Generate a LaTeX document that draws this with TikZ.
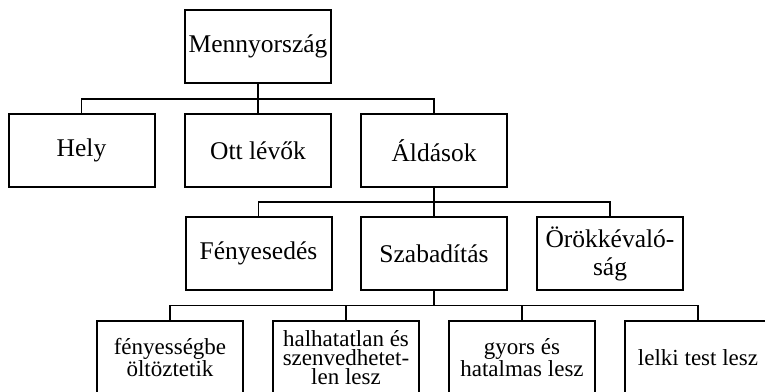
\documentclass[tikz,border=0pt]{standalone}
\usepackage{fontspec}
\setmainfont{Liberation Serif}
\begin{document}
\begin{tikzpicture}[x=1pt,y=-1pt,
  box/.style={draw=black, line width=2pt, minimum width=146pt, minimum height=73pt, inner sep=0pt, align=center, font=\fontsize{25.5}{28}\selectfont},
  sbox/.style={box, font=\fontsize{23}{19}\selectfont},
  conn/.style={draw=black, line width=1.8pt}]
\useasboundingbox (0,0) rectangle (765,391);
\clip (0,0) rectangle (765,391);
\node[box] (m) at (258,46.5) {Mennyország};
\node[box] (hely) at (81.5,150.5) {Hely};
\node[box] (ott) at (258,150.5) {Ott lévők};
\node[box] (ald) at (434,150.5) {Áldások};
\node[box] (fen) at (258.5,253.5) {Fényesedés};
\node[box] (sza) at (434,253.5) {Szabadítás};
\node[box] (oro) at (610,253.5) {Örökkévaló-\\ság};
\node[sbox] (f1) at (170,357.5) {fényességbe\\öltöztetik};
\node[sbox] (f2) at (346,357.5) {halhatatlan és\\szenvedhetet-\\len lesz};
\node[sbox] (f3) at (522,357.5) {gyors és\\hatalmas lesz};
\node[sbox] (f4) at (698,357.5) {lelki test lesz};
\coordinate (b1) at (258,99);
\coordinate (b2) at (434,202);
\coordinate (b3) at (434,305.5);
\draw[conn] (m.south) -- (b1);
\draw[conn] (hely.north) |- (b1) -| (ald.north);
\draw[conn] (ott.north) -- (b1);
\draw[conn] (ald.south) -- (b2);
\draw[conn] (fen.north) |- (b2) -| (oro.north);
\draw[conn] (sza.north) -- (b2);
\draw[conn] (sza.south) -- (b3);
\draw[conn] (f1.north) |- (b3) -| (f4.north);
\draw[conn] (f2.north) |- (b3);
\draw[conn] (f3.north) |- (b3);
\end{tikzpicture}
\end{document}
